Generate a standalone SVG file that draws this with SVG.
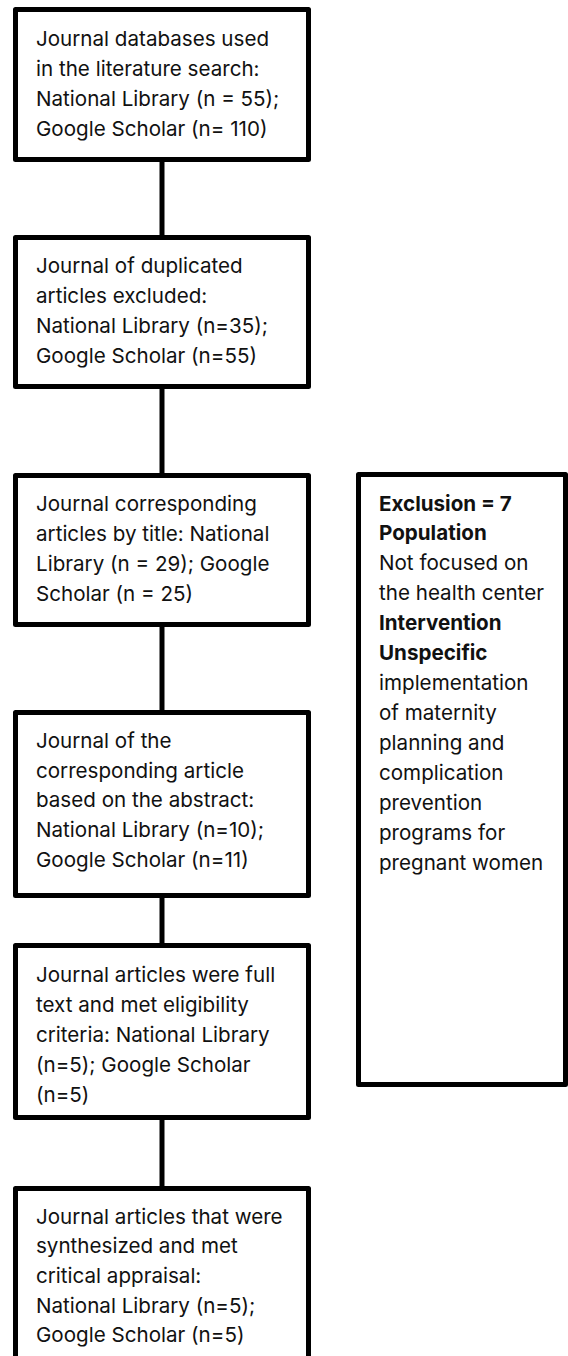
<svg xmlns="http://www.w3.org/2000/svg" width="568" height="1356" viewBox="0 0 568 1356">
<style>
.box{fill:#fff;stroke:#000;stroke-width:5;stroke-linejoin:round}
.t{font-family:Inter,"Noto Sans","DejaVu Sans",sans-serif;font-size:20.6px;fill:#111}
.b{font-weight:bold}
.c{stroke:#000;stroke-width:5;fill:none}
</style>
<rect width="568" height="1356" fill="#fff"/>
<g id="connectors">
<line class="c" x1="162" y1="160" x2="162" y2="237"/>
<line class="c" x1="162" y1="387" x2="162" y2="475"/>
<line class="c" x1="162" y1="625" x2="162" y2="712"/>
<line class="c" x1="162" y1="896" x2="162" y2="945"/>
<line class="c" x1="162" y1="1118" x2="162" y2="1188"/>
</g>
<g id="n1">
<rect class="box" x="15.5" y="9.5" width="293" height="150"/>
<text class="t" x="36" y="46">Journal databases used</text>
<text class="t" x="36" y="76">in the literature search:</text>
<text class="t" x="36" y="106">National Library (n = 55);</text>
<text class="t" x="36" y="136">Google Scholar (n= 110)</text>
</g>
<g id="n2">
<rect class="box" x="15.5" y="237.5" width="293" height="149"/>
<text class="t" x="36" y="273">Journal of duplicated</text>
<text class="t" x="36" y="303">articles excluded:</text>
<text class="t" x="36" y="333">National Library (n=35);</text>
<text class="t" x="36" y="363">Google Scholar (n=55)</text>
</g>
<g id="n3">
<rect class="box" x="15.5" y="475.5" width="293" height="149"/>
<text class="t" x="36" y="511">Journal corresponding</text>
<text class="t" x="36" y="541">articles by title: National</text>
<text class="t" x="36" y="571">Library (n = 29); Google</text>
<text class="t" x="36" y="601">Scholar (n = 25)</text>
</g>
<g id="n4">
<rect class="box" x="15.5" y="712.5" width="293" height="183"/>
<text class="t" x="36" y="748">Journal of the</text>
<text class="t" x="36" y="778">corresponding article</text>
<text class="t" x="36" y="807">based on the abstract:</text>
<text class="t" x="36" y="837">National Library (n=10);</text>
<text class="t" x="36" y="867">Google Scholar (n=11)</text>
</g>
<g id="n5">
<rect class="box" x="15.5" y="945.5" width="293" height="172"/>
<text class="t" x="36" y="982">Journal articles were full</text>
<text class="t" x="36" y="1012">text and met eligibility</text>
<text class="t" x="36" y="1042">criteria: National Library</text>
<text class="t" x="36" y="1072">(n=5); Google Scholar</text>
<text class="t" x="36" y="1102">(n=5)</text>
</g>
<g id="n6">
<rect class="box" x="15.5" y="1188.5" width="293" height="200"/>
<text class="t" x="36" y="1224">Journal articles that were</text>
<text class="t" x="36" y="1253">synthesized and met</text>
<text class="t" x="36" y="1283">critical appraisal:</text>
<text class="t" x="36" y="1313">National Library (n=5);</text>
<text class="t" x="36" y="1342">Google Scholar (n=5)</text>
</g>
<g id="exclusion">
<rect class="box" x="358.5" y="474.5" width="207" height="610"/>
<text class="t b" x="379" y="511">Exclusion = 7</text>
<text class="t b" x="379" y="540">Population</text>
<text class="t" x="379" y="570">Not focused on</text>
<text class="t" x="379" y="600">the health center</text>
<text class="t b" x="379" y="630">Intervention</text>
<text class="t b" x="379" y="660">Unspecific</text>
<text class="t" x="379" y="690">implementation</text>
<text class="t" x="379" y="720">of maternity</text>
<text class="t" x="379" y="750">planning and</text>
<text class="t" x="379" y="780">complication</text>
<text class="t" x="379" y="810">prevention</text>
<text class="t" x="379" y="840">programs for</text>
<text class="t" x="379" y="870">pregnant women</text>
</g>
</svg>
